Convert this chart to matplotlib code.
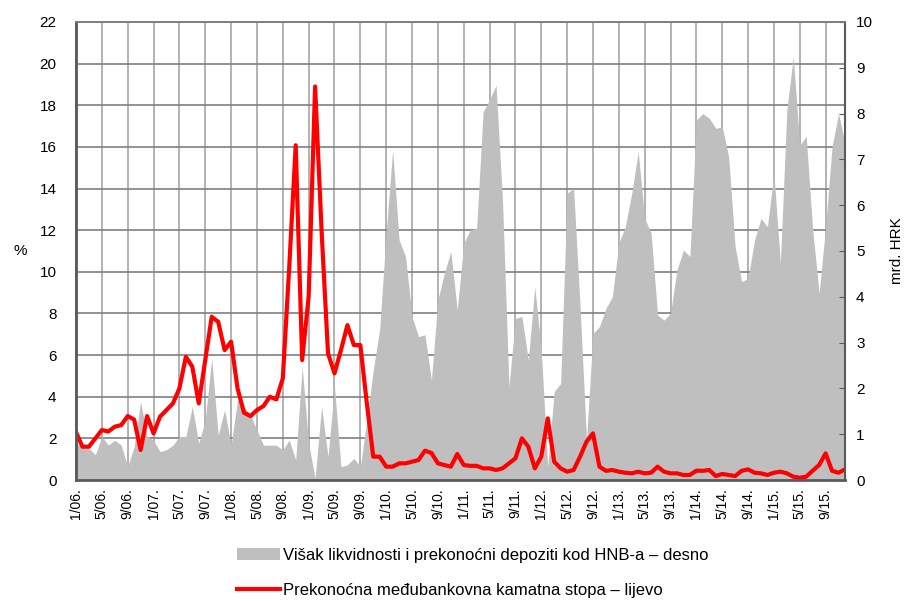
import matplotlib
matplotlib.use("Agg")
import matplotlib.pyplot as plt
import numpy as np
from matplotlib.patches import Patch
from matplotlib.lines import Line2D

plt.rcParams['font.family'] = ['Liberation Sans', 'DejaVu Sans']

# mjesečni podaci 1/06 - 12/15
kamatna_stopa = [
    2.3, 1.6, 1.6, 2.0, 2.4, 2.33, 2.56, 2.64, 3.07, 2.9,
    1.44, 3.07, 2.24, 3.04, 3.36, 3.68, 4.4, 5.92, 5.44, 3.68,
    5.76, 7.84, 7.6, 6.24, 6.64, 4.4, 3.23, 3.07, 3.36, 3.55,
    4.0, 3.87, 4.88, 10.24, 16.08, 5.76, 8.8, 18.9, 12.0, 6.08,
    5.12, 6.24, 7.44, 6.48, 6.48, 3.7, 1.12, 1.12, 0.64, 0.64,
    0.8, 0.8, 0.88, 0.96, 1.41, 1.3, 0.8, 0.72, 0.64, 1.25,
    0.72, 0.68, 0.68, 0.56, 0.56, 0.48, 0.56, 0.8, 1.04, 2.0,
    1.6, 0.56, 1.12, 2.96, 0.88, 0.56, 0.4, 0.48, 1.12, 1.84,
    2.24, 0.64, 0.44, 0.48, 0.4, 0.35, 0.32, 0.4, 0.32, 0.35,
    0.64, 0.4, 0.32, 0.32, 0.24, 0.24, 0.45, 0.44, 0.48, 0.19,
    0.29, 0.24, 0.19, 0.44, 0.51, 0.35, 0.32, 0.24, 0.35, 0.4,
    0.32, 0.16, 0.11, 0.16, 0.45, 0.72, 1.28, 0.44, 0.35, 0.51,
]

visak_likvidnosti = [
    0.8, 0.73, 0.69, 0.55, 0.95, 0.76, 0.87, 0.76, 0.29, 0.73,
    1.71, 0.95, 0.87, 0.62, 0.66, 0.76, 0.95, 0.95, 1.6, 0.8,
    1.31, 2.66, 0.98, 1.53, 0.76, 1.75, 1.6, 1.42, 1.09, 0.76,
    0.76, 0.76, 0.66, 0.87, 0.44, 2.47, 0.8, 0.04, 1.6, 0.51,
    2.04, 0.29, 0.33, 0.47, 0.29, 1.3, 2.4, 3.3, 5.4, 7.2,
    5.24, 4.88, 3.57, 3.13, 3.17, 2.18, 3.93, 4.51, 4.99, 3.71,
    5.17, 5.46, 5.5, 8.04, 8.3, 8.62, 6.11, 2.04, 3.53, 3.57,
    2.62, 4.22, 2.84, 0.29, 1.93, 2.11, 6.26, 6.37, 3.8, 0.87,
    3.2, 3.35, 3.75, 4.0, 5.17, 5.53, 6.26, 7.17, 5.71, 5.39,
    3.6, 3.49, 3.64, 4.59, 5.02, 4.88, 7.86, 8.0, 7.9, 7.68,
    7.71, 7.06, 5.09, 4.33, 4.4, 5.24, 5.71, 5.53, 6.7, 4.73,
    8.08, 9.24, 7.31, 7.5, 5.46, 4.08, 5.53, 7.28, 8.0, 7.35,
]

oznake = [
    "1/06.", "5/06.", "9/06.", "1/07.", "5/07.", "9/07.", "1/08.", "5/08.",
    "9/08.", "1/09.", "5/09.", "9/09.", "1/10.", "5/10.", "9/10.", "1/11.",
    "5/11.", "9/11.", "1/12.", "5/12.", "9/12.", "1/13.", "5/13.", "9/13.",
    "1/14.", "5/14.", "9/14.", "1/15.", "5/15.", "9/15.",
]

naziv_sivo = "Višak likvidnosti i prekonoćni depoziti kod HNB-a – desno"
naziv_crveno = "Prekonoćna međubankovna kamatna stopa – lijevo"

x = np.arange(len(kamatna_stopa))

fig = plt.figure(figsize=(9.09, 6.01), dpi=100)
ax = fig.add_axes([76 / 909, 1 - 480 / 601, 769 / 909, 458 / 601])
ax2 = ax.twinx()

# sivo podrucje - desna os
ax2.fill_between(x, 0, visak_likvidnosti, color='#bfbfbf', linewidth=0)
# crvena linija - lijeva os, crta se iznad sivog
ax2.plot(x, kamatna_stopa, color='#ff0000', linewidth=3, transform=ax.transData,
         solid_joinstyle='round')

ax.set_xlim(0, len(x) - 1)
ax.set_ylim(0, 22)
ax2.set_ylim(0, 10)

ax.set_xticks(x[::4])
ax.set_xticklabels(oznake, rotation=90, fontsize=10)
ax.set_yticks(np.arange(0, 23, 2))
ax2.set_yticks(np.arange(0, 11, 1))

ax.tick_params(axis='y', length=0, pad=14, labelsize=11)
ax.tick_params(axis='x', length=0, pad=6)
ax2.tick_params(axis='y', direction='in', length=4, color='#595959', pad=8, labelsize=11)

ax.grid(axis='y', color='#7f7f7f', linewidth=1.2)
ax.grid(axis='x', color='#a6a6a6', linewidth=1.2)
ax.set_axisbelow(True)

for a in (ax, ax2):
    for s in a.spines.values():
        s.set_color('#7f7f7f')
        s.set_linewidth(1.2)
ax2.spines['left'].set_linewidth(2)
ax2.spines['left'].set_color('#595959')
ax2.spines['bottom'].set_linewidth(2)
ax2.spines['bottom'].set_color('#595959')
ax2.spines['right'].set_linewidth(1.5)
ax2.spines['right'].set_color('#595959')

ax.set_ylabel("%", rotation=0, fontsize=11, labelpad=14, va='center')
ax2.set_ylabel("mrd. HRK", fontsize=11, labelpad=12)

ruke = [Patch(facecolor='#bfbfbf', edgecolor='none'),
        Line2D([], [], color='#ff0000', linewidth=3)]
fig.legend(ruke, [naziv_sivo, naziv_crveno], loc='upper left',
           bbox_to_anchor=(237 / 909, 1 - 548 / 601), frameon=False,
           fontsize=12, handlelength=2.55, handletextpad=0.2,
           labelspacing=1.2, borderpad=0, borderaxespad=0)

fig.savefig("out.png", dpi=100)
